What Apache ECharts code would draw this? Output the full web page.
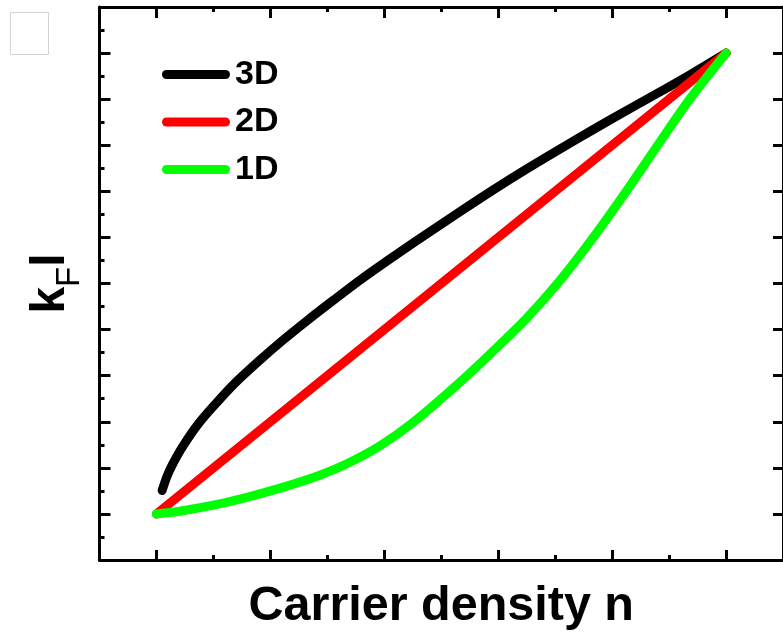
<!DOCTYPE html>
<html>
<head>
<meta charset="utf-8">
<title>k_F l versus carrier density</title>
<script src="https://cdn.jsdelivr.net/npm/echarts@6/dist/echarts.min.js"></script>
<style>
  html, body { margin: 0; padding: 0; background: #fff; }
  #chart { width: 783px; height: 636px; }
</style>
</head>
<body>
<div id="chart"></div>
<script>
// Curves of k_F·l against carrier density n (arbitrary units), one per dimensionality.
const seriesNames = ['3D', '2D', '1D'];
const seriesColors = ['#000000', '#ff0000', '#00ff00'];

const curve3D = [
  [0.05, 0.51], [0.09, 0.80], [0.14, 1.07], [0.23, 1.46], [0.37, 1.96], [0.52, 2.39],
  [0.69, 2.84], [0.90, 3.32], [1.10, 3.75], [1.33, 4.21], [1.56, 4.65],
  [1.79, 5.08], [2.03, 5.50], [2.26, 5.89], [2.66, 6.55],
  [2.95, 7.02], [3.24, 7.47], [3.53, 7.90], [3.82, 8.32], [4.11, 8.73],
  [4.40, 9.13], [4.69, 9.54], [5.00, 10.00]
];
const curve2D = [
  [0.00, 0.00], [5.00, 10.00]
];
const curve1D = [
  [0.00, 0.00], [0.23, 0.07], [0.52, 0.20], [0.81, 0.37], [1.10, 0.57],
  [1.39, 0.80], [1.68, 1.10], [1.97, 1.49], [2.26, 2.00],
  [2.66, 2.85], [2.95, 3.52], [3.24, 4.22], [3.53, 5.03], [3.82, 5.95],
  [4.11, 6.95], [4.40, 8.00], [4.69, 9.03], [5.00, 10.00]
];

// Tick positions (no tick labels are drawn on this figure)
const xMajorTicks = [0, 1, 2, 3, 4, 5];
const xMinorTicks = [0.5, 1.5, 2.5, 3.5, 4.5];
const yMajorTicks = [0, 1, 2, 3, 4, 5, 6, 7, 8, 9, 10];
const yMinorTicks = [-0.5, 0.5, 1.5, 2.5, 3.5, 4.5, 5.5, 6.5, 7.5, 8.5, 9.5, 10.5];

const xTitle = 'Carrier density n';
const FONT = "Arial, 'Liberation Sans', Helvetica, sans-serif";

// Capsule-shaped legend key (a thick line with round ends)
const LEGEND_KEY = 'path://M4.5,0 L63.5,0 A4.5,4.5 0 0 1 63.5,9 L4.5,9 A4.5,4.5 0 0 1 4.5,0 Z';

const chart = echarts.init(document.getElementById('chart'), null, { renderer: 'canvas' });

function tickAxis(base, values, length, showLine) {
  return Object.assign({
    type: 'value',
    gridIndex: 0,
    axisLine: { show: showLine, onZero: false, lineStyle: { color: '#000', width: 3 } },
    axisTick: { show: true, inside: true, length: length, customValues: values,
                lineStyle: { color: '#000', width: 3 } },
    axisLabel: { show: false },
    splitLine: { show: false },
    minorTick: { show: false }
  }, base);
}

const xRange = { min: -0.5, max: 5.5 };
const yRange = { min: -1, max: 11 };

const option = {
  animation: false,
  backgroundColor: '#ffffff',
  grid: { left: 99.5, top: 7, width: 690, height: 555.5, containLabel: false },
  graphic: [{
    type: 'rect',
    left: 10, top: 12,
    shape: { width: 38, height: 42 },
    style: { fill: '#ffffff', stroke: '#d4d4d4', lineWidth: 1 }
  }],
  legend: {
    orient: 'vertical',
    left: 157,
    top: 52.5,
    icon: LEGEND_KEY,
    itemWidth: 68,
    itemHeight: 9,
    itemGap: 13.5,
    data: seriesNames,
    textStyle: { fontFamily: FONT, fontWeight: 'bold', fontSize: 34, color: '#000', lineHeight: 34 }
  },
  xAxis: [
    tickAxis(Object.assign({
      position: 'bottom',
      name: xTitle,
      nameLocation: 'middle',
      nameGap: 22,
      nameTextStyle: { fontFamily: FONT, fontWeight: 'bold', fontSize: 48.5, color: '#000',
                       verticalAlign: 'top' }
    }, xRange), xMajorTicks, 10, true),
    tickAxis(Object.assign({ position: 'bottom' }, xRange), xMinorTicks, 5, false),
    tickAxis(Object.assign({ position: 'top' }, xRange), xMajorTicks, 11, true),
    tickAxis(Object.assign({ position: 'top' }, xRange), xMinorTicks, 5, false)
  ],
  yAxis: [
    tickAxis(Object.assign({
      position: 'left',
      name: '{k|k}{f|F}{k|l}',
      nameLocation: 'middle',
      nameRotate: 90,
      nameGap: 25,
      nameTextStyle: {
        color: '#000',
        rich: {
          k: { fontFamily: FONT, fontWeight: 'bold', fontSize: 48, color: '#000',
               lineHeight: 48, verticalAlign: 'top' },
          f: { fontFamily: FONT, fontWeight: 'normal', fontSize: 33, color: '#000',
               lineHeight: 33, padding: [27, 0, 0, 0], verticalAlign: 'top' }
        }
      }
    }, yRange), yMajorTicks, 11, true),
    tickAxis(Object.assign({ position: 'left' }, yRange), yMinorTicks, 5, false),
    tickAxis(Object.assign({ position: 'right' }, yRange), yMajorTicks, 10, true)
  ],
  series: [
    { name: seriesNames[0], data: curve3D, color: seriesColors[0] },
    { name: seriesNames[1], data: curve2D, color: seriesColors[1] },
    { name: seriesNames[2], data: curve1D, color: seriesColors[2] }
  ].map((s, i) => ({
    name: s.name,
    type: 'line',
    xAxisIndex: 0,
    yAxisIndex: 0,
    data: s.data,
    smooth: 0.3,
    showSymbol: false,
    symbol: 'none',
    z: 2 + i,
    itemStyle: { color: s.color },
    lineStyle: { color: s.color, width: 9, cap: 'round', join: 'round' }
  }))
};

chart.setOption(option);
</script>
</body>
</html>
